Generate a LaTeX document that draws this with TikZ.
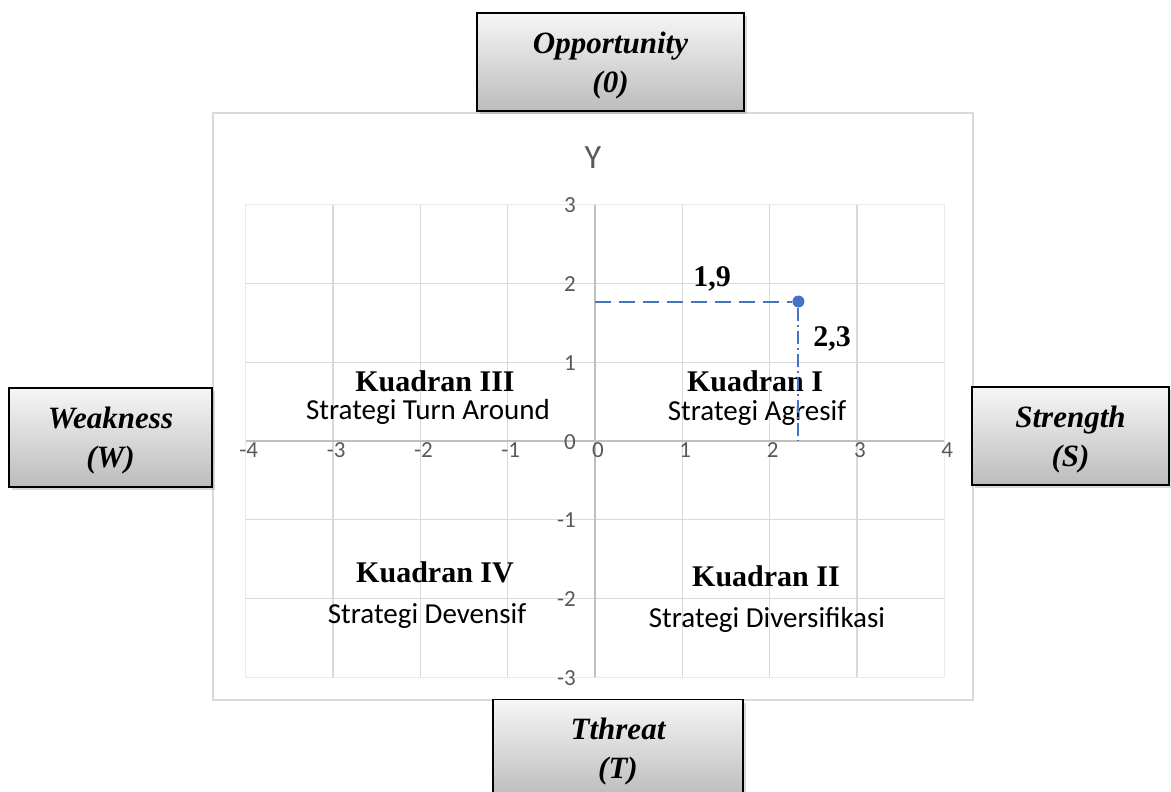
\documentclass[tikz,border=0pt]{standalone}
\usepackage{fontspec}
\usetikzlibrary{shadows}
\newfontfamily\tnrfont{Liberation Serif}
\newfontfamily\calfont{Carlito}
\definecolor{gridc}{RGB}{217,217,217}
\definecolor{edgec}{RGB}{234,234,234}
\definecolor{axisc}{RGB}{191,191,191}
\definecolor{tickc}{RGB}{89,89,89}
\definecolor{ptc}{RGB}{68,114,196}
\definecolor{boxtop}{RGB}{246,246,246}
\definecolor{boxbot}{RGB}{188,188,188}
\begin{document}
\begin{tikzpicture}[x=1pt,y=-1pt,
  swotbox/.style={draw=black, line width=1.5pt, top color=boxtop, bottom color=boxbot,
    inner sep=0pt, align=center, font=\tnrfont\bfseries\itshape\fontsize{31}{39}\selectfont,
    drop shadow={shadow xshift=3pt, shadow yshift=-3pt, opacity=0.3}},
  kuad/.style={anchor=base, inner sep=0pt, font=\tnrfont\bfseries\fontsize{30}{36}\selectfont},
  strat/.style={anchor=base, inner sep=0pt, font=\calfont\fontsize{29}{34}\selectfont},
  ticklab/.style={inner sep=0pt, text=tickc, font=\calfont\fontsize{23}{27}\selectfont},
  vallab/.style={anchor=base, inner sep=0pt, font=\tnrfont\bfseries\fontsize{30}{36}\selectfont},
  gridline/.style={draw=gridc, line width=1.3pt},
  axisline/.style={draw=axisc, line width=1.5pt},
  guide/.style={draw=ptc, line width=2pt}
]
\useasboundingbox (0,0) rectangle (1171,792);
% chart frame
\draw[draw=gridc, line width=1.5pt] (213,113) rectangle (973,700);
% axis title
\node[anchor=base, inner sep=0pt, text=tickc, font=\calfont\fontsize{34}{40}\selectfont] (ytitle) at (593,168) {Y};
% plot area
\begin{scope}[shift={(595,441)}, x=87.3pt, y=78.8pt]
  \draw[draw=edgec, line width=1.3pt] (-4,-3) rectangle (4,3);
  \foreach \i in {-3,...,3} \draw[gridline] (\i,-3) -- (\i,3);
  \foreach \j in {-2,...,2} \draw[gridline] (-4,\j) -- (4,\j);
  \draw[axisline] (-4,0) -- (4,0);
  \draw[axisline] (0,-3) -- (0,3);
  \foreach \i in {-4,...,4} \node[ticklab, anchor=base, xshift=3pt, yshift=-16pt] (xl\i) at (\i,0) {\i};
  \foreach \j in {-3,...,3} \node[ticklab, anchor=base east, xshift=-19pt, yshift=-8pt] (yl\j) at (0,\j) {\j};
  \coordinate (hstart) at (0,1.77);
  \coordinate (vend) at (2.33,0);
  \node[circle, fill=ptc, inner sep=0pt, minimum size=12pt] (pt) at (2.33,1.77) {};
\end{scope}
% quadrant labels
\node[kuad] (k1) at (755,391) {Kuadran I};
\node[strat] (s1) at (757,420) {Strategi Agresif};
\node[kuad] (k3) at (435,391) {Kuadran III};
\node[strat] (s3) at (428,419) {Strategi Turn Around};
\node[kuad] (k4) at (435,582) {Kuadran IV};
\node[strat] (s4) at (427,623) {Strategi Devensif};
\node[kuad] (k2) at (766,586) {Kuadran II};
\node[strat] (s2) at (767,627) {Strategi Diversifikasi};
% value labels
\node[vallab] (v19) at (712,286) {1,9};
\node[vallab] (v23) at (832,346) {2,3};
% guide lines
\draw[guide, dash pattern=on 16pt off 8pt] (hstart) -- (pt);
\draw[guide, dash pattern=on 13pt off 4pt on 2pt off 4pt] (pt) -- (vend);
% SWOT boxes
\node[swotbox, minimum width=267pt, minimum height=98pt] (opp) at (610.5,62) {\rule{0pt}{28pt}Opportunity\\(0)};
\node[swotbox, minimum width=203pt, minimum height=99pt] (weak) at (110.5,437.5) {\rule{0pt}{28pt}Weakness\\(W)};
\node[swotbox, minimum width=197pt, minimum height=98pt] (str) at (1070.5,436) {\rule{0pt}{28pt}Strength\\(S)};
\node[swotbox, minimum width=250pt, minimum height=98pt] (thr) at (618,748.5) {\rule{0pt}{28pt}Tthreat\\(T)};
\end{tikzpicture}
\end{document}
